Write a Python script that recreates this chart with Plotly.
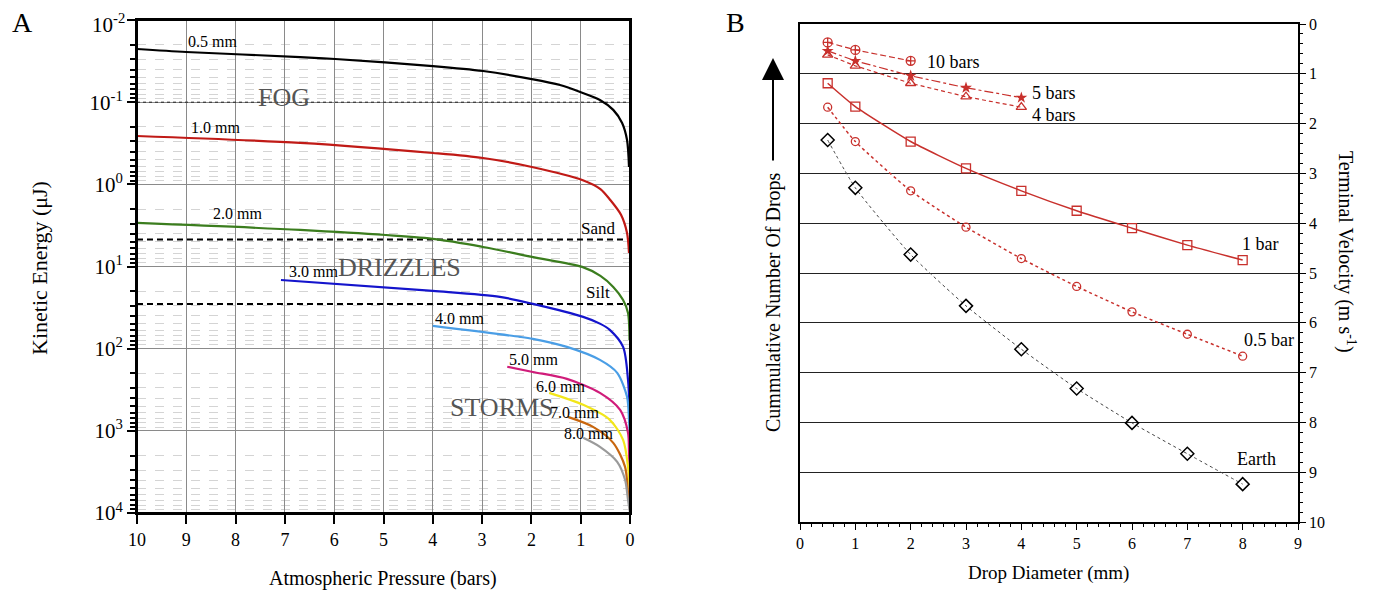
import plotly.graph_objects as go

# Target screenshot size; the page body adds an 8px margin, so the figure is drawn 8px smaller
SW, SH = 1378, 594
OFF = 8
W, H = SW - OFF, SH - OFF
FONT = "Liberation Serif"

# ---------------- Panel A data (pressure in bars, kinetic energy in uJ) ----------------
p_05 = [10.0, 9.0, 6.69, 5.98, 4.0, 2.98, 1.99, 1.42, 1.01, 0.61, 0.34, 0.16, 0.06, 0.02]
ke_05 = [0.0225, 0.0245, 0.0282, 0.0298, 0.0363, 0.0417, 0.0523, 0.0618, 0.0752, 0.094, 0.124, 0.179, 0.288, 0.614]

p_10 = [10.0, 6.69, 4.0, 2.98, 1.99, 0.97, 0.60, 0.40, 0.18, 0.06, 0.02]
ke_10 = [0.258, 0.313, 0.415, 0.478, 0.614, 0.883, 1.14, 1.55, 2.36, 3.90, 6.84]

p_20 = [10.0, 6.69, 4.0, 2.98, 1.99, 0.97, 0.60, 0.34, 0.14, 0.04, 0.01]
ke_20 = [2.95, 3.59, 4.61, 5.78, 7.64, 10.1, 13.0, 17.7, 25.5, 36.7, 78.2]

p_30 = [7.08, 4.0, 2.64, 1.97, 0.95, 0.60, 0.41, 0.14, 0.04, 0.01]
ke_30 = [14.6, 19.8, 23.4, 28.5, 41.0, 49.9, 59.0, 95.1, 240, 556]

p_40 = [4.0, 2.23, 1.97, 1.28, 0.61, 0.26, 0.06, 0.02, 0.0]
ke_40 = [52.8, 71.8, 76.0, 95.1, 137, 197, 385, 735, 1285]

p_50 = [2.49, 1.97, 1.28, 0.61, 0.20, 0.04, 0.02, 0.0]
ke_50 = [166, 192, 233, 345, 556, 1057, 1853, 4000]

p_60 = [1.64, 0.95, 0.41, 0.14, 0.04, 0.0]
ke_60 = [345, 483, 735, 1285, 2742, 6000]

p_70 = [1.26, 0.75, 0.34, 0.10, 0.04, 0.0]
ke_70 = [676, 894, 1400, 2742, 5675, 9000]

p_80 = [0.95, 0.61, 0.26, 0.10, 0.04, 0.0]
ke_80 = [1216, 1566, 2382, 3945, 6902, 10000]

drop_labels = ["0.5 mm", "1.0 mm", "2.0 mm", "3.0 mm", "4.0 mm", "5.0 mm", "6.0 mm", "7.0 mm", "8.0 mm"]
drop_colors = ["#000000", "#c01a16", "#3b7d1e", "#1414cc", "#4a9ee6", "#d01c7a", "#f2e61a", "#c8660e", "#9a9a9a"]

p_range = [10, 0]
FOG_LEVEL = 0.1
SAND_LEVEL = 4.7
SILT_LEVEL = 28.5

ke_ticks = [0.01, 0.1, 1, 10, 100, 1000, 10000]
ke_ticktext = ["10<sup>-2</sup>", "10<sup>-1</sup>", "10<sup>0</sup>", "10<sup>1</sup>",
               "10<sup>2</sup>", "10<sup>3</sup>", "10<sup>4</sup>"]
p_ticks = [10, 9, 8, 7, 6, 5, 4, 3, 2, 1, 0]

# ---------------- Panel B data (drop diameter mm, terminal velocity m/s) ----------------
d_full = [0.5, 1, 2, 3, 4, 5, 6, 7, 8]
v_earth = [2.33, 3.29, 4.63, 5.66, 6.53, 7.32, 8.01, 8.63, 9.24]
v_05bar = [1.67, 2.36, 3.35, 4.08, 4.71, 5.27, 5.78, 6.23, 6.67]
v_1bar = [1.19, 1.66, 2.36, 2.90, 3.35, 3.75, 4.10, 4.44, 4.74]
d_45 = [0.5, 1, 2, 3, 4]
v_4bar = [0.62, 0.84, 1.19, 1.46, 1.67]
v_5bar = [0.54, 0.74, 1.04, 1.28, 1.48]
d_10 = [0.5, 1, 2]
v_10bar = [0.37, 0.52, 0.74]

RED = "#c8302c"

fig = go.Figure()

curves = [(p_05, ke_05), (p_10, ke_10), (p_20, ke_20), (p_30, ke_30), (p_40, ke_40),
          (p_50, ke_50), (p_60, ke_60), (p_70, ke_70), (p_80, ke_80)]

fig.add_trace(go.Scatter(x=p_range, y=[FOG_LEVEL] * 2, mode="lines", xaxis="x", yaxis="y",
                         line=dict(color="#222", width=1, dash="dot"), showlegend=False, hoverinfo="skip"))
for lvl in (SAND_LEVEL, SILT_LEVEL):
    fig.add_trace(go.Scatter(x=p_range, y=[lvl] * 2, mode="lines", xaxis="x", yaxis="y",
                             line=dict(color="black", width=2, dash="6px,4px"), showlegend=False,
                             hoverinfo="skip"))

for (px_, ke_), name, col in zip(curves, drop_labels, drop_colors):
    fig.add_trace(go.Scatter(x=px_, y=ke_, mode="lines", name=name, xaxis="x", yaxis="y",
                             line=dict(color=col, width=2.2, shape="spline", smoothing=0.8),
                             showlegend=False))

# ---- Panel B series ----
fig.add_trace(go.Scatter(x=d_full, y=v_earth, mode="lines+markers", xaxis="x2", yaxis="y2",
                         line=dict(color="#444", width=1, dash="dot", shape="spline", smoothing=0.5),
                         marker=dict(symbol="diamond-open", size=10, color="black", line=dict(width=1.5)),
                         showlegend=False))
fig.add_trace(go.Scatter(x=d_full, y=v_05bar, mode="lines+markers", xaxis="x2", yaxis="y2",
                         line=dict(color=RED, width=1.5, dash="dot", shape="spline", smoothing=0.5),
                         marker=dict(symbol="circle-open", size=8, color=RED, line=dict(width=1.3)),
                         showlegend=False))
fig.add_trace(go.Scatter(x=d_full, y=v_1bar, mode="lines+markers", xaxis="x2", yaxis="y2",
                         line=dict(color=RED, width=1.5, shape="spline", smoothing=0.5),
                         marker=dict(symbol="square-open", size=9, color=RED, line=dict(width=1.3)),
                         showlegend=False))
fig.add_trace(go.Scatter(x=d_45, y=v_4bar, mode="lines+markers", xaxis="x2", yaxis="y2",
                         line=dict(color=RED, width=1.2, dash="4px,3px"),
                         marker=dict(symbol="triangle-up-open", size=9, color=RED, line=dict(width=1.3)),
                         showlegend=False))
fig.add_trace(go.Scatter(x=d_45, y=v_5bar, mode="lines+markers", xaxis="x2", yaxis="y2",
                         line=dict(color=RED, width=1.2, dash="dashdot"),
                         marker=dict(symbol="star", size=9, color=RED),
                         showlegend=False))
fig.add_trace(go.Scatter(x=d_10, y=v_10bar, mode="lines+markers", xaxis="x2", yaxis="y2",
                         line=dict(color=RED, width=1.2, dash="6px,3px"),
                         marker=dict(symbol="circle-cross-open", size=9, color=RED, line=dict(width=1.3)),
                         showlegend=False))

minor_vals = [m * 10 ** e for e in range(-2, 4) for m in range(2, 10)]


def fx(x):
    return (x - OFF) / W


def fy(y):
    return 1 - (y - OFF) / H


# the top tick label is drawn as an annotation (nudged down) so its superscript is not cut off
axis_ticktext = [""] + ke_ticktext[1:]

fig.update_layout(
    width=W, height=H, autosize=False,
    margin=dict(l=0, r=0, t=0, b=0, pad=0),
    paper_bgcolor="white", plot_bgcolor="white",
    font=dict(family=FONT, color="black"),
    xaxis=dict(domain=[fx(137), fx(630)], range=p_range, tickvals=p_ticks, automargin=False,
               ticks="outside", ticklen=9, tickwidth=2, tickcolor="black",
               showgrid=True, gridcolor="#8a8a8a", gridwidth=1,
               showline=True, linecolor="black", linewidth=2, mirror=True,
               zeroline=False, tickfont=dict(size=18, family=FONT), anchor="y",
               ticklabeloverflow="allow"),
    yaxis=dict(domain=[fy(513), fy(20)], type="log", range=[4, -2.0005], automargin=False,
               tickvals=ke_ticks, ticktext=axis_ticktext, ticklabeloverflow="allow",
               ticks="outside", ticklen=8, tickwidth=2, tickcolor="black",
               showgrid=True, gridcolor="#8a8a8a", gridwidth=1,
               showline=True, linecolor="black", linewidth=2, mirror=True,
               zeroline=False, tickfont=dict(size=21, family=FONT), anchor="x",
               minor=dict(tickvals=minor_vals, ticks="outside", ticklen=5, tickwidth=2,
                          tickcolor="black", showgrid=True, gridcolor="#d4d4d4",
                          griddash="dash", gridwidth=1)),
    xaxis2=dict(domain=[fx(800), fx(1298)], range=[0, 9], dtick=1, tick0=0, automargin=False,
                ticks="outside", ticklen=6, tickwidth=1.2, tickcolor="black",
                showgrid=False, showline=True, linecolor="black", linewidth=1.5, mirror=True,
                zeroline=False, tickfont=dict(size=16, family=FONT), anchor="y2",
                minor=dict(dtick=0.2, ticks="outside", ticklen=3, tickwidth=1, tickcolor="black")),
    yaxis2=dict(domain=[fy(522), fy(24)], range=[10, 0], dtick=1, tick0=0, side="right",
                automargin=False, ticklabeloverflow="allow",
                ticks="outside", ticklen=6, tickwidth=1.2, tickcolor="black",
                showgrid=True, gridcolor="#222", gridwidth=1.2,
                showline=True, linecolor="black", linewidth=1.5, mirror=True,
                zeroline=False, tickfont=dict(size=16, family=FONT), anchor="x2",
                minor=dict(dtick=0.2, ticks="outside", ticklen=3, tickwidth=1, tickcolor="black")),
    shapes=[dict(type="rect", xref="x domain", yref="y domain", x0=0, x1=1, y0=0, y1=1,
                 line=dict(color="black", width=2), fillcolor="rgba(0,0,0,0)", layer="above")],
)

annotations = []


def ann(text, x, y, size, color="black", xanchor="center", angle=0):
    annotations.append(dict(text=text, x=fx(x), y=fy(y), xref="paper", yref="paper",
                            showarrow=False, xanchor=xanchor, yanchor="middle",
                            textangle=angle, font=dict(family=FONT, size=size, color=color)))


ann(ke_ticktext[0], 127, 24, 21, xanchor="right")

ann("A", 22, 22, 28)
ann("B", 735, 22, 28)

label_pos = [(212, 42), (215, 127), (237, 213), (313, 271), (460, 318),
             (533, 359), (560, 386), (574, 412), (588, 433)]
for t, (x, y) in zip(drop_labels, label_pos):
    ann(t, x, y, 16)
ann("FOG", 284, 97, 26, "#555")
ann("DRIZZLES", 399, 267, 26, "#555")
ann("STORMS", 502, 407, 26, "#555")
ann("Sand", 598, 229, 17)
ann("Silt", 598, 292, 17)
ann("Kinetic Energy (μJ)", 40, 268, 22, angle=-90)
ann("Atmospheric Pressure (bars)", 383, 578, 20)

ann("10 bars", 925, 62, 18, xanchor="left")
ann("5 bars", 1030, 93, 18, xanchor="left")
ann("4 bars", 1030, 115, 18, xanchor="left")
ann("1 bar", 1240, 244, 18, xanchor="left")
ann("0.5 bar", 1242, 340, 18, xanchor="left")
ann("Earth", 1235, 459, 18, xanchor="left")
ann("Drop Diameter (mm)", 1048, 573, 19)
ann("Cummulative Number Of Drops", 773, 302, 20, angle=-90)
ann("Terminal Velocity (m s<sup>-1</sup>)", 1347, 252, 20, angle=90)

annotations.append(dict(text="", x=fx(773), y=fy(58), xref="paper", yref="paper", showarrow=True,
                        ax=0, ay=104, axref="pixel", ayref="pixel",
                        arrowhead=2, arrowsize=2.2, arrowwidth=2, arrowcolor="black"))

fig.update_layout(annotations=annotations)
fig.write_html("out.html")
